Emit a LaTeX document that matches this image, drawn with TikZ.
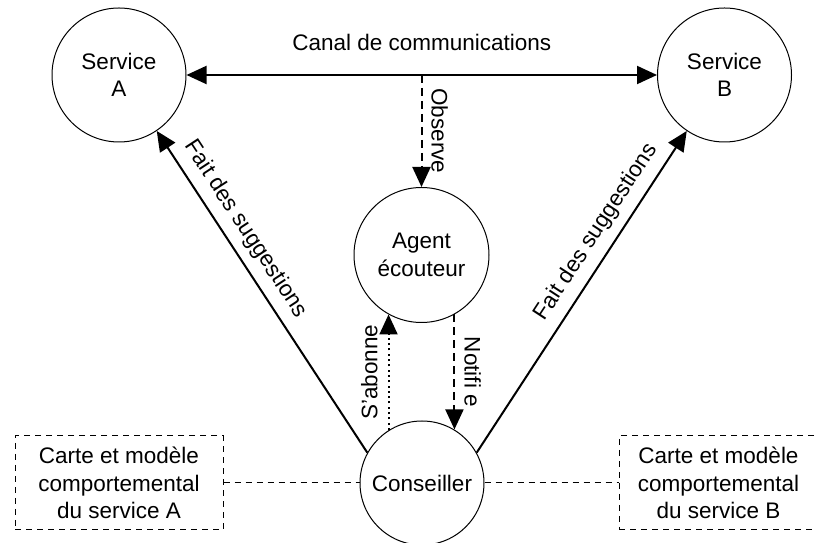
\documentclass[tikz,border=0pt]{standalone}
\usepackage{fontspec}
\setmainfont{Liberation Sans}
\usetikzlibrary{arrows.meta}

\begin{document}
\begin{tikzpicture}[x=1pt, y=1pt,
    >={Triangle[length=20pt, width=18pt]},
    every node/.style={font=\fontsize{22.5}{27.5}\selectfont},
    service/.style={circle, draw, line width=1pt, minimum size=134pt, inner sep=0pt, align=center},
    carte/.style={draw, line width=1pt, dash pattern=on 6pt off 5pt, minimum height=94pt, inner sep=2pt, align=center},
    lien/.style={line width=2pt, ->},
    tirets/.style={dash pattern=on 8pt off 5pt},
    ]
    \useasboundingbox (0,0) rectangle (817,543);
    \clip (0,0) rectangle (817,543);

    \node[service] (svcA) at (119,468) {Service\\A};
    \node[service] (svcB) at (724.5,468) {Service\\B};
    \node[service, minimum size=135pt] (agent) at (421.5,288) {Agent\\écouteur};
    \node[service, minimum size=124pt] (cons) at (422,60) {Conseiller};
    \node[carte, minimum width=208pt] (carteA) at (119,60) {Carte et modèle\\comportemental\\du service A};
    \node[carte, minimum width=199pt] (carteB) at (718.5,60) {Carte et modèle\\comportemental\\du service B};

    \draw[line width=2pt, <->] (svcA) -- (svcB) node[midway, above=21pt, inner sep=2pt] {Canal de communications};
    \coordinate (obs) at (agent |- svcA);
    \draw[lien, tirets] (obs) -- (agent) node[midway, rotate=-90, anchor=south, inner sep=9pt] {Observe};
    \draw[lien, dash pattern=on 2pt off 3.3pt] (agent.-119 |- cons.122) -- (agent.-119) node[midway, rotate=90, anchor=south, inner sep=10pt] {S'abonne};
    \draw[lien, tirets] (agent.-61) -- (agent.-61 |- cons.59) node[midway, rotate=-90, anchor=south, inner sep=9pt] {Notifi e};
    \draw[lien] (cons.151) -- (svcA.-56) node[pos=0.66, sloped, above, inner sep=9pt] {Fait des suggestions};
    \draw[lien] (cons.29) -- (svcB.-124) node[pos=0.65, sloped, above, inner sep=9pt] {Fait des suggestions};

    \draw[line width=1pt, dash pattern=on 6pt off 5pt] (carteA) -- (cons);
    \draw[line width=1pt, dash pattern=on 6pt off 5pt] (cons) -- (carteB);
\end{tikzpicture}
\end{document}
